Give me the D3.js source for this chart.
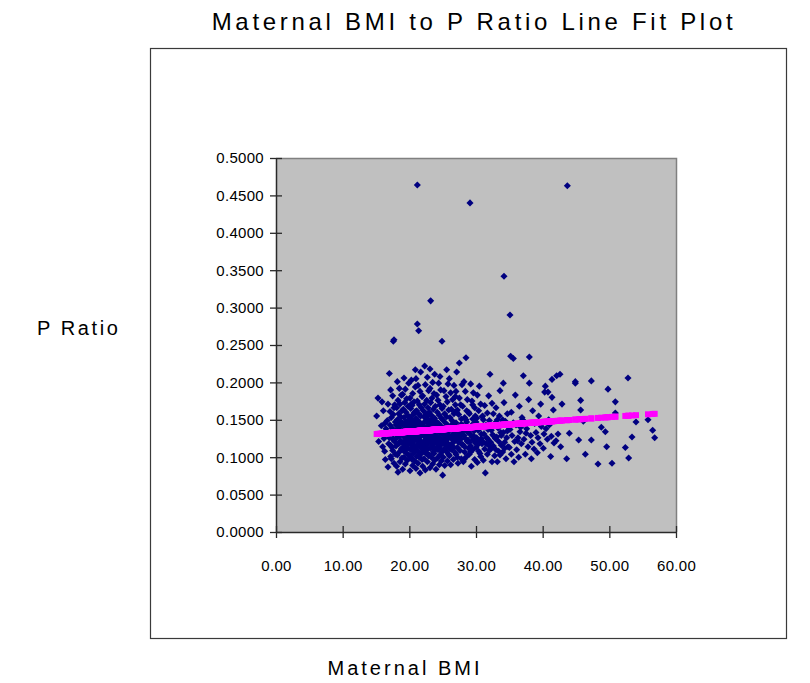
<!DOCTYPE html>
<html>
<head>
<meta charset="utf-8">
<script src="https://cdn.jsdelivr.net/npm/d3@7"></script>
<style>
  body { margin: 0; background: #fff; }
  text { font-family: "Liberation Sans", Arial, sans-serif; fill: #000; }
</style>
</head>
<body>
<svg id="graph" width="810" height="683"></svg>
<script>
// ---- data: [Maternal BMI, P Ratio] ----
var outliers = [[21.2,0.464],[29.1,0.440],[43.7,0.463],[34.2,0.342],[23.2,0.309],[35.1,0.290],
  [21.2,0.278],[21.4,0.269],[17.6,0.255],[17.7,0.257],[24.9,0.255],[35.2,0.235],[35.6,0.232],
  [38.0,0.234],[28.5,0.233],[27.5,0.226]];

var coreBand = [
  [15.1,0.155],[15.3,0.179],[15.9,0.174],[15.6,0.131],[15.8,0.142],[15.4,0.121],
  [16.0,0.114],[16.3,0.108],[16.8,0.087],[16.2,0.125],[16.5,0.138],[16.7,0.149],[16.1,0.162],[16.9,0.118],[16.4,0.097],[16.6,0.133],[16.8,0.171],[16.3,0.145],
  [17.0,0.212],[17.2,0.190],[17.5,0.182],[17.8,0.170],[17.1,0.161],[17.3,0.153],[17.9,0.147],[17.4,0.139],[17.6,0.131],[17.0,0.126],[17.8,0.121],[17.2,0.116],[17.5,0.109],[17.9,0.104],[17.3,0.098],[17.7,0.092],[17.1,0.143],[17.6,0.157],[17.4,0.113],[17.9,0.135],[17.2,0.101],[17.7,0.166],[17.5,0.124],
  [18.3,0.080],[18.1,0.088],[18.6,0.094],[18.9,0.099],[18.2,0.103],[18.5,0.107],[18.8,0.111],[18.0,0.115],[18.4,0.118],[18.7,0.122],[18.1,0.126],[18.6,0.129],[18.9,0.133],[18.3,0.136],[18.5,0.140],[18.0,0.143],[18.8,0.147],[18.2,0.150],[18.7,0.154],[18.4,0.158],[18.9,0.162],[18.1,0.166],[18.6,0.171],[18.3,0.176],[18.8,0.183],[18.5,0.192],[18.2,0.201],[18.7,0.120],[18.4,0.128],[18.9,0.112],[18.0,0.135],[18.6,0.145],
  [19.0,0.084],[19.4,0.091],[19.7,0.096],[19.2,0.100],[19.9,0.103],[19.5,0.106],[19.1,0.109],[19.8,0.112],[19.3,0.114],[19.6,0.117],[19.0,0.119],[19.4,0.122],[19.9,0.124],[19.2,0.127],[19.7,0.129],[19.5,0.131],[19.1,0.134],[19.8,0.136],[19.3,0.138],[19.6,0.141],[19.0,0.144],[19.4,0.147],[19.9,0.150],[19.2,0.153],[19.7,0.156],[19.5,0.160],[19.1,0.164],[19.8,0.168],[19.3,0.173],[19.6,0.178],[19.0,0.184],[19.4,0.191],[19.9,0.199],[19.2,0.206],[19.6,0.121],[19.8,0.132],[19.3,0.110],[19.5,0.145],
  [20.1,0.082],[20.5,0.089],[20.8,0.095],[20.3,0.099],[20.0,0.102],[20.6,0.105],[20.9,0.108],[20.2,0.110],[20.4,0.113],[20.7,0.115],[20.1,0.118],[20.5,0.120],[20.8,0.123],[20.3,0.125],[20.0,0.127],[20.6,0.130],[20.9,0.132],[20.2,0.134],[20.4,0.137],[20.7,0.139],[20.1,0.142],[20.5,0.145],[20.8,0.148],[20.3,0.151],[20.0,0.154],[20.6,0.157],[20.9,0.161],[20.2,0.165],[20.4,0.169],[20.7,0.174],[20.1,0.179],[20.5,0.185],[20.9,0.194],[20.3,0.203],[20.9,0.217],[20.6,0.116],[20.2,0.128],[20.8,0.140],[20.4,0.097],[20.0,0.147],[20.7,0.159],[20.3,0.171],
  [21.0,0.085],[21.6,0.079],[21.3,0.092],[21.9,0.097],[21.1,0.101],[21.7,0.104],[21.4,0.107],[21.0,0.110],[21.8,0.112],[21.5,0.115],[21.2,0.117],[21.9,0.119],[21.6,0.122],[21.3,0.124],[21.0,0.126],[21.7,0.128],[21.4,0.131],[21.1,0.133],[21.8,0.135],[21.5,0.138],[21.2,0.140],[21.9,0.143],[21.6,0.146],[21.3,0.149],[21.0,0.152],[21.7,0.155],[21.4,0.158],[21.1,0.162],[21.8,0.166],[21.5,0.170],[21.2,0.175],[21.9,0.181],[21.6,0.188],[21.3,0.196],[21.0,0.205],[21.7,0.214],[21.4,0.121],[21.8,0.129],[21.1,0.114],[21.5,0.100],[21.2,0.144],[21.6,0.136],
  [22.0,0.088],[22.4,0.083],[22.7,0.094],[22.2,0.098],[22.9,0.102],[22.5,0.105],[22.1,0.108],[22.8,0.111],[22.3,0.113],[22.6,0.116],[22.0,0.118],[22.9,0.121],[22.4,0.123],[22.7,0.125],[22.2,0.128],[22.5,0.130],[22.1,0.132],[22.8,0.135],[22.3,0.137],[22.6,0.140],[22.0,0.142],[22.9,0.145],[22.4,0.148],[22.7,0.151],[22.2,0.154],[22.5,0.158],[22.1,0.162],[22.8,0.166],[22.3,0.171],[22.6,0.176],[22.0,0.182],[22.9,0.189],[22.4,0.197],[22.7,0.207],[22.3,0.222],[22.1,0.120],[22.6,0.127],[22.8,0.139],[22.5,0.106],[22.2,0.146],[22.9,0.156],[22.0,0.133]
];

var midBand = [
  [23.1,0.086],[23.5,0.091],[23.8,0.096],[23.3,0.100],[23.0,0.103],[23.6,0.107],[23.9,0.110],[23.2,0.112],[23.4,0.115],[23.7,0.118],[23.1,0.120],[23.5,0.123],[23.8,0.125],[23.3,0.127],[23.0,0.130],[23.6,0.132],[23.9,0.135],[23.2,0.137],[23.4,0.140],[23.7,0.143],[23.1,0.146],[23.5,0.149],[23.8,0.152],[23.3,0.156],[23.0,0.160],[23.6,0.164],[23.9,0.168],[23.2,0.173],[23.4,0.179],[23.7,0.185],[23.1,0.192],[23.5,0.200],[23.1,0.218],[23.8,0.211],[23.4,0.119],[23.9,0.129],[23.0,0.141],[23.6,0.113],[23.3,0.150],[23.7,0.105],
  [24.0,0.084],[24.5,0.090],[24.8,0.095],[24.2,0.099],[24.6,0.103],[24.9,0.107],[24.3,0.110],[24.1,0.113],[24.7,0.116],[24.4,0.118],[24.0,0.121],[24.8,0.123],[24.5,0.126],[24.2,0.128],[24.9,0.131],[24.6,0.133],[24.3,0.136],[24.1,0.139],[24.7,0.142],[24.4,0.145],[24.0,0.148],[24.8,0.152],[24.5,0.156],[24.2,0.160],[24.9,0.165],[24.6,0.170],[24.3,0.176],[24.1,0.183],[24.7,0.190],[24.4,0.199],[24.6,0.208],[24.2,0.122],[24.8,0.135],[24.5,0.112],[24.1,0.144],
  [25.0,0.076],[25.3,0.089],[25.7,0.095],[25.1,0.100],[25.9,0.104],[25.5,0.108],[25.2,0.111],[25.8,0.114],[25.4,0.117],[25.0,0.120],[25.6,0.123],[25.3,0.125],[25.9,0.128],[25.1,0.131],[25.7,0.133],[25.5,0.136],[25.2,0.139],[25.8,0.142],[25.4,0.146],[25.0,0.150],[25.6,0.154],[25.3,0.158],[25.9,0.163],[25.1,0.168],[25.7,0.174],[25.5,0.181],[25.2,0.189],[25.6,0.217],[25.8,0.198],[25.4,0.127],[25.0,0.138],[25.7,0.119],
  [26.2,0.090],[26.6,0.097],[26.0,0.102],[26.9,0.106],[26.4,0.110],[26.7,0.113],[26.1,0.116],[26.5,0.119],[26.8,0.122],[26.3,0.125],[26.0,0.128],[26.6,0.131],[26.9,0.134],[26.2,0.137],[26.5,0.141],[26.8,0.145],[26.4,0.149],[26.1,0.153],[26.7,0.158],[26.3,0.164],[26.9,0.170],[26.5,0.177],[26.2,0.186],[26.7,0.196],[26.0,0.205],[26.4,0.129],
  [27.1,0.214],[27.3,0.092],[27.8,0.098],[27.0,0.104],[27.6,0.109],[27.2,0.113],[27.9,0.117],[27.4,0.120],[27.7,0.124],[27.1,0.127],[27.5,0.131],[27.9,0.134],[27.3,0.138],[27.6,0.142],[27.0,0.146],[27.8,0.151],[27.4,0.157],[27.2,0.163],[27.7,0.170],[27.5,0.179],[27.0,0.188],[27.9,0.197],[27.3,0.121],
  [28.1,0.094],[28.6,0.101],[28.3,0.107],[28.9,0.112],[28.0,0.117],[28.7,0.121],[28.4,0.125],[28.2,0.129],[28.8,0.133],[28.5,0.137],[28.1,0.142],[28.6,0.147],[28.3,0.153],[28.9,0.160],[28.0,0.168],[28.7,0.177],[28.4,0.188],[28.2,0.201],
  [29.3,0.088],[29.8,0.097],[29.0,0.104],[29.5,0.110],[29.2,0.115],[29.9,0.119],[29.6,0.123],[29.4,0.127],[29.1,0.131],[29.7,0.135],[29.3,0.140],[29.9,0.145],[29.5,0.151],[29.0,0.158],[29.8,0.166],[29.4,0.175],[29.6,0.186],[29.2,0.198]
];

// extra fill for the medium-density part of the cloud (BMI 26-42)
var fillBand = [[26.3,0.143],[26.8,0.160],[26.1,0.111],[26.6,0.124],[26.9,0.181],[27.2,0.100],[27.6,0.127],
  [27.8,0.144],[27.1,0.160],[27.4,0.135],[28.3,0.114],[28.8,0.123],[28.5,0.150],[28.0,0.135],[28.6,0.162],
  [28.2,0.097],[29.2,0.107],[29.7,0.128],[29.4,0.143],[29.0,0.120],[29.9,0.155],[29.5,0.170],[30.3,0.117],
  [30.8,0.125],[30.5,0.138],[30.1,0.152],[30.6,0.105],[31.5,0.118],[31.2,0.140],[31.8,0.124],[31.0,0.155],
  [32.3,0.112],[32.7,0.128],[32.9,0.146],[33.4,0.108],[33.8,0.129],[33.2,0.150],[34.3,0.112],[34.7,0.135],
  [34.0,0.150],[36.2,0.122],[36.7,0.140],[37.5,0.132],[38.4,0.120],[39.3,0.126],[40.2,0.131],[41.3,0.128],[42.0,0.122]];

var upperBand = [
  [30.2,0.093],[30.7,0.101],[30.4,0.108],[30.0,0.113],[30.9,0.118],[30.5,0.122],[30.1,0.126],[30.8,0.131],[30.3,0.136],[30.6,0.141],[30.0,0.147],[30.9,0.154],[30.4,0.162],[30.7,0.171],[30.2,0.183],[30.5,0.195],
  [31.4,0.079],[31.1,0.096],[31.7,0.104],[31.3,0.111],[31.9,0.116],[31.0,0.121],[31.6,0.126],[31.2,0.131],[31.8,0.137],[31.5,0.143],[31.1,0.150],[31.7,0.159],[31.3,0.169],[31.9,0.182],
  [32.1,0.211],[32.4,0.094],[32.8,0.102],[32.0,0.109],[32.6,0.115],[32.2,0.120],[32.9,0.125],[32.5,0.130],[32.3,0.136],[32.7,0.142],[32.0,0.149],[32.6,0.158],[32.4,0.172],
  [33.2,0.094],[33.6,0.103],[33.0,0.110],[33.8,0.116],[33.4,0.121],[33.1,0.127],[33.7,0.133],[33.3,0.139],[33.9,0.146],[33.5,0.155],[33.0,0.166],[33.6,0.189],
  [34.1,0.199],[34.5,0.098],[34.0,0.107],[34.8,0.114],[34.3,0.120],[34.6,0.126],[34.1,0.133],[34.9,0.140],[34.4,0.148],[34.7,0.158],[34.2,0.173],
  [35.7,0.094],[35.9,0.183],[35.3,0.104],[35.0,0.113],[35.8,0.121],[35.4,0.129],[35.1,0.137],[35.6,0.146],[35.3,0.160],
  [36.4,0.100],[36.1,0.110],[36.8,0.118],[36.3,0.126],[36.6,0.134],[36.0,0.143],[36.9,0.153],[36.5,0.168],
  [37.1,0.209],[37.4,0.104],[37.8,0.114],[37.2,0.124],[37.6,0.138],[37.0,0.150],[37.9,0.177],
  [38.0,0.199],[38.3,0.098],[38.7,0.111],[38.2,0.129],[38.8,0.145],[38.5,0.162],
  [39.2,0.106],[39.6,0.118],[39.0,0.133],[39.8,0.141],[39.4,0.155],[39.7,0.171],
  [40.3,0.187],[40.4,0.195],[40.1,0.112],[40.7,0.124],[40.5,0.138],[40.9,0.150],[40.8,0.187],
  [41.4,0.204],[41.4,0.180],[41.2,0.101],[41.7,0.119],[41.0,0.143],[41.6,0.163],
  [42.1,0.209],[42.6,0.211],[42.9,0.171],[42.3,0.131],[42.7,0.114]
];

var tailBand = [[43.6,0.098],[44.0,0.132],[44.9,0.201],[44.9,0.199],[45.4,0.123],[45.7,0.176],[45.7,0.163],
  [46.1,0.148],[46.4,0.104],[47.3,0.202],[47.3,0.123],[48.3,0.091],[48.8,0.140],[49.4,0.134],[49.6,0.114],
  [49.8,0.191],[50.4,0.092],[50.9,0.159],[50.9,0.174],[52.4,0.113],[52.8,0.206],[52.9,0.099],[53.4,0.127],
  [54.0,0.147],[55.8,0.150],[56.5,0.136],[56.8,0.126]];

// fitted line ends
var fitEnds = [[15.1, 0.131], [56.8, 0.158]];

var xTicks = [0, 10, 20, 30, 40, 50, 60];
var yTicks = [0, 0.05, 0.1, 0.15, 0.2, 0.25, 0.3, 0.35, 0.4, 0.45, 0.5];

function makeChart()
{
  var svg = d3.select("#graph");
  var allPts = coreBand.concat(midBand, fillBand, upperBand, tailBand, outliers);

  var scX = d3.scaleLinear().domain([0, 60]).range([276, 676]);
  var scY = d3.scaleLinear().domain([0, 0.5]).range([532, 158]);
  var scFit = d3.scaleLinear().domain([fitEnds[0][0], fitEnds[1][0]]).range([fitEnds[0][1], fitEnds[1][1]]);

  // chart area box
  svg.append("rect").attr("x", 150.5).attr("y", 48.5).attr("width", 636).attr("height", 590)
    .attr("fill", "#fff").attr("stroke", "#3a3a3a").attr("stroke-width", 1.2);

  // title + axis titles
  svg.append("text").attr("x", 474).attr("y", 30).attr("text-anchor", "middle")
    .style("font-size", "24px").style("letter-spacing", "3.7px")
    .text("Maternal BMI to P Ratio Line Fit Plot");
  svg.append("text").attr("x", 37).attr("y", 335)
    .style("font-size", "20px").style("letter-spacing", "2.6px").text("P Ratio");
  svg.append("text").attr("x", 405).attr("y", 675).attr("text-anchor", "middle")
    .style("font-size", "20px").style("letter-spacing", "3px").text("Maternal BMI");

  // plot area
  svg.append("rect").attr("x", scX(0)).attr("y", scY(0.5)).attr("width", scX(60) - scX(0)).attr("height", scY(0) - scY(0.5))
    .attr("fill", "#c0c0c0");
  svg.append("path").attr("d", `M${scX(0)},${scY(0.5) + 0.5}H${scX(60) + 0.5}V${scY(0)}`)
    .attr("fill", "none").attr("stroke", "#808080").attr("stroke-width", 1.5);

  // axes
  var yAxis = d3.axisLeft(scY).tickValues(yTicks).tickSize(0).tickPadding(12).tickFormat(d3.format(".4f"));
  var xAxis = d3.axisBottom(scX).tickValues(xTicks).tickSize(0).tickPadding(28).tickFormat(d3.format(".2f"));

  var gy = svg.append("g").attr("transform", `translate(${scX(0)},0)`).call(yAxis);
  var gx = svg.append("g").attr("transform", `translate(0,${scY(0)})`).call(xAxis);
  [gx, gy].forEach(g => {
    g.select(".domain").attr("stroke", "#2a2a2a").attr("stroke-width", 1.5);
    g.selectAll("text").style("font-family", "'Liberation Sans', Arial, sans-serif")
      .style("font-size", "15px").style("letter-spacing", "0.3px").attr("fill", "#111");
  });
  gy.selectAll(".tick").append("line").attr("x1", -6).attr("x2", 6).attr("stroke", "#2a2a2a").attr("stroke-width", 1.3);
  gx.selectAll(".tick").append("line").attr("y1", -6).attr("y2", 6).attr("stroke", "#2a2a2a").attr("stroke-width", 1.3);

  // observed points: navy diamonds
  var diamond = d3.symbol().type(d3.symbolSquare).size(25);
  svg.append("g").selectAll("path").data(allPts).enter().append("path")
    .attr("d", diamond)
    .attr("transform", d => `translate(${scX(d[0])},${scY(d[1])}) rotate(45)`)
    .attr("fill", "#000080");

  // predicted values: magenta squares on each observed BMI
  svg.append("g").selectAll("rect").data(allPts).enter().append("rect")
    .attr("x", d => scX(d[0]) - 3).attr("y", d => scY(scFit(d[0])) - 3)
    .attr("width", 6).attr("height", 6)
    .attr("fill", "#ff00ff");
}

makeChart();
</script>
</body>
</html>
